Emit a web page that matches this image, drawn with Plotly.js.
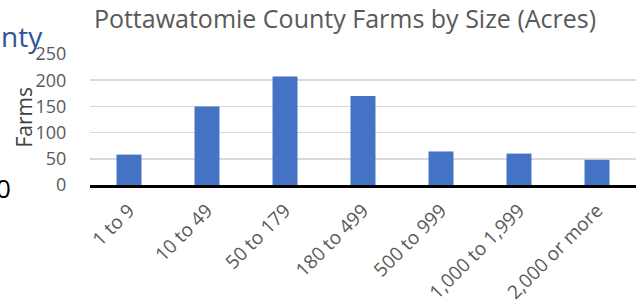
<!DOCTYPE html>
<html>
<head>
<meta charset="utf-8">
<script src="https://cdn.plot.ly/plotly-3.0.1.min.js"></script>
<style>html,body{margin:0;padding:0;background:#fff;}#chart{width:636px;height:303px;}</style>
</head>
<body>
<div id="chart"></div>
<script>
const categories = ["1 to 9", "10 to 49", "50 to 179", "180 to 499", "500 to 999", "1,000 to 1,999", "2,000 or more"];
const farms = [58, 150, 207, 170, 64, 60, 48];
const yTicks = [0, 50, 100, 150, 200, 250];
const chartTitle = "Pottawatomie County Farms by Size (Acres)";
const yTitle = "Farms";

const L = 90, W = 636, H = 303, T = 54, B = 118;
const plotW = W - L;
const px = (x) => (x - L) / plotW;

const data = [{
  type: 'bar',
  x: categories,
  y: farms,
  marker: {color: '#4472C4'},
  hoverinfo: 'x+y'
}];

const layout = {
  width: W, height: H,
  margin: {l: L, r: 0, t: T, b: B, pad: 0},
  paper_bgcolor: '#ffffff',
  plot_bgcolor: '#ffffff',
  bargap: 0.68,
  showlegend: false,
  font: {family: 'Open Sans, sans-serif', color: '#595959', size: 18},
  title: {
    text: chartTitle,
    font: {family: 'Open Sans, sans-serif', size: 25, color: '#595959'},
    xref: 'container', x: 345 / W, xanchor: 'center',
    yref: 'container', y: 1 - 19 / H, yanchor: 'middle'
  },
  xaxis: {
    type: 'category',
    tickangle: -45,
    tickfont: {size: 19, color: '#595959'},
    showgrid: false,
    showline: true, linecolor: '#000000', linewidth: 3,
    ticks: 'outside', ticklen: 4, tickcolor: 'rgba(0,0,0,0)', zeroline: false
  },
  yaxis: {
    range: [0, 250],
    tickvals: yTicks,
    ticktext: yTicks.map(String),
    tickfont: {size: 18, color: '#595959'},
    showgrid: true, gridcolor: '#d9d9d9', gridwidth: 1.5,
    zeroline: false, showline: false,
    ticks: 'outside', ticklen: 19, tickcolor: 'rgba(0,0,0,0)'
  },
  annotations: [
    {text: yTitle, xref: 'paper', yref: 'paper', x: px(23), y: 1 - (117.5 - T) / (H - T - B), xanchor: 'center', yanchor: 'middle',
     textangle: -90, showarrow: false, font: {family: 'Open Sans, sans-serif', size: 21, color: '#404040'}},
    {text: 'nty', xref: 'paper', yref: 'paper', x: px(-1), y: 1 + (T - 36) / (H - T - B), xanchor: 'left', yanchor: 'middle',
     showarrow: false, font: {family: 'Open Sans, sans-serif', size: 28, color: '#2F5597'}},
    {text: '0', xref: 'paper', yref: 'paper', x: px(13), y: (H - B - 188) / (H - T - B) , xanchor: 'right', yanchor: 'middle',
     showarrow: false, font: {family: 'Open Sans, sans-serif', size: 26, color: '#000000'}}
  ]
};

Plotly.newPlot('chart', data, layout, {displayModeBar: false, staticPlot: true});
</script>
</body>
</html>
